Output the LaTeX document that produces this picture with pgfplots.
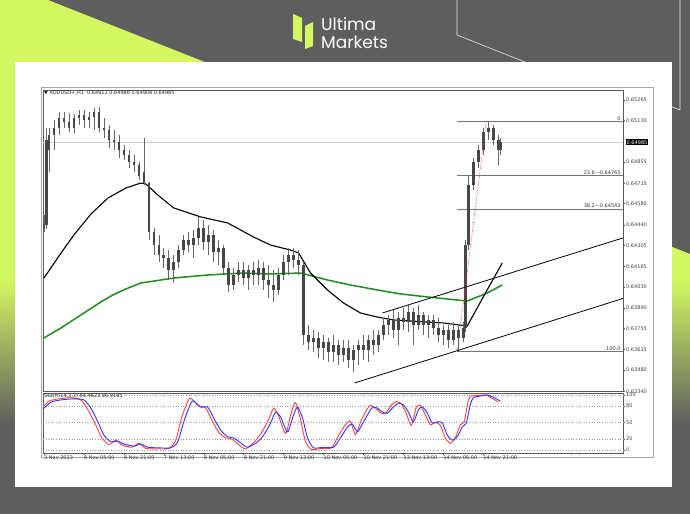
\documentclass[border=0pt]{standalone}
\usepackage{pgfplots}
\pgfplotsset{compat=1.18}
\usepackage{pgfplotstable}
\usepackage{fontspec}
\setmainfont{DejaVu Sans}
\newfontfamily\logofont{Poppins}
\definecolor{bggray}{HTML}{5E5E5E}
\definecolor{limec}{HTML}{D4F862}
\definecolor{magreen}{HTML}{1E8C1E}
\newcommand\tinyf{\fontsize{5}{6}\selectfont}

\pgfplotstableread{
i o h l c
0 0.64419 0.64505 0.64392 0.64439
1 0.64439 0.65080 0.64412 0.65001
2 0.64934 0.65080 0.64789 0.65034
4 0.65034 0.65133 0.64934 0.65080
6 0.65080 0.65186 0.65034 0.65146
8 0.65146 0.65186 0.65080 0.65120
10 0.65120 0.65179 0.65053 0.65080
12 0.65080 0.65172 0.65047 0.65146
14 0.65146 0.65199 0.65100 0.65166
16 0.65166 0.65199 0.65080 0.65133
18 0.65133 0.65186 0.65080 0.65153
20 0.65153 0.65212 0.65067 0.65186
22 0.65186 0.65219 0.65053 0.65080
24 0.65080 0.65146 0.65014 0.65067
26 0.65067 0.65100 0.64948 0.65001
28 0.65001 0.65067 0.64934 0.64987
30 0.64987 0.65034 0.64882 0.64934
32 0.64934 0.64968 0.64868 0.64901
34 0.64901 0.64934 0.64815 0.64855
36 0.64855 0.64901 0.64789 0.64835
38 0.64835 0.64855 0.64736 0.64763
40 0.64789 0.65014 0.64703 0.64716
42 0.64716 0.64723 0.64339 0.64392
44 0.64392 0.64419 0.64240 0.64306
46 0.64306 0.64373 0.64194 0.64240
48 0.64240 0.64287 0.64154 0.64220
50 0.64220 0.64273 0.64075 0.64141
52 0.64141 0.64240 0.64055 0.64194
54 0.64194 0.64306 0.64154 0.64273
56 0.64273 0.64373 0.64240 0.64339
58 0.64339 0.64392 0.64260 0.64306
60 0.64306 0.64406 0.64220 0.64353
62 0.64353 0.64491 0.64306 0.64419
64 0.64419 0.64472 0.64273 0.64326
66 0.64326 0.64439 0.64240 0.64373
68 0.64373 0.64406 0.64194 0.64260
70 0.64260 0.64339 0.64174 0.64287
72 0.64287 0.64306 0.64108 0.64154
74 0.64154 0.64194 0.63996 0.64042
76 0.64042 0.64154 0.64009 0.64108
78 0.64108 0.64194 0.64062 0.64141
80 0.64141 0.64194 0.64042 0.64088
82 0.64088 0.64174 0.64009 0.64141
84 0.64141 0.64194 0.64042 0.64108
86 0.64108 0.64207 0.64042 0.64154
88 0.64154 0.64194 0.64009 0.64075
90 0.64075 0.64174 0.63956 0.64042
92 0.64042 0.64141 0.63930 0.64009
94 0.64009 0.64154 0.63976 0.64108
96 0.64108 0.64240 0.64075 0.64194
98 0.64194 0.64287 0.64108 0.64240
100 0.64240 0.64287 0.64154 0.64207
102 0.64207 0.64273 0.64108 0.64174
104 0.64174 0.64194 0.63645 0.63711
106 0.63711 0.63778 0.63612 0.63665
108 0.63665 0.63745 0.63599 0.63692
110 0.63692 0.63731 0.63559 0.63625
112 0.63625 0.63711 0.63546 0.63665
114 0.63665 0.63692 0.63533 0.63599
116 0.63599 0.63711 0.63533 0.63645
118 0.63645 0.63678 0.63513 0.63579
120 0.63579 0.63678 0.63533 0.63625
122 0.63625 0.63678 0.63493 0.63546
124 0.63546 0.63645 0.63467 0.63612
126 0.63612 0.63678 0.63513 0.63645
128 0.63645 0.63711 0.63546 0.63612
130 0.63612 0.63711 0.63533 0.63678
132 0.63678 0.63745 0.63579 0.63645
134 0.63645 0.63745 0.63599 0.63711
136 0.63711 0.63824 0.63678 0.63778
138 0.63778 0.63844 0.63711 0.63811
140 0.63811 0.63877 0.63692 0.63745
142 0.63745 0.63863 0.63645 0.63824
144 0.63824 0.63890 0.63745 0.63797
146 0.63797 0.63910 0.63731 0.63863
148 0.63863 0.63890 0.63645 0.63778
150 0.63778 0.63910 0.63745 0.63844
152 0.63844 0.63863 0.63711 0.63778
154 0.63778 0.63844 0.63692 0.63811
156 0.63811 0.63844 0.63711 0.63758
158 0.63758 0.63824 0.63665 0.63711
160 0.63711 0.63778 0.63645 0.63745
162 0.63745 0.63778 0.63625 0.63678
164 0.63678 0.63797 0.63645 0.63745
166 0.63745 0.63778 0.63612 0.63692
168 0.63692 0.63797 0.63665 0.63758
169 0.63758 0.64339 0.63731 0.64306
170 0.64306 0.64769 0.64273 0.64703
172 0.64703 0.64882 0.64670 0.64855
174 0.64855 0.64968 0.64815 0.64934
176 0.64934 0.65080 0.64901 0.65053
178 0.65053 0.65120 0.65001 0.65080
180 0.65080 0.65100 0.64968 0.65001
182 0.65001 0.65034 0.64835 0.64934
183 0.64934 0.65014 0.64901 0.64987
}\candles

\pgfplotstableread{
i v
0 76
2.8 87
6.8 91
12 93
16 91
18.8 76
21.6 51
24 27
26.8 15
29.6 16
32 11
36 7
38.8 11
41.6 5
45.6 4
50.8 4
53.6 15
56 51
58.8 85
60 89
62.8 78
65.6 78
68 58
70.8 36
73.6 24
76 22
78.8 13
81.6 5
85.6 15
88 27
90.8 49
92.8 69
94.8 60
97.6 33
100 64
101.6 78
103.6 58
105.6 22
108 4
112 5
116 5
118.8 22
121.6 42
123.6 47
125.6 33
128 51
130.8 73
132 78
133.6 76
135.6 69
137.6 67
140 78
142 85
144 82
146 69
148 51
150 73
151.6 78
153.6 67
155.6 49
157.6 51
159.6 49
161.6 27
163.6 18
165.6 24
167.6 42
169.2 49
170.8 82
172 95
174.8 98
177.6 100
180 96
182.8 89
}\stochblue

\pgfplotstableread{
i v
0 80
2 89
6 93
11 95
15 90
18 70
20.8 45
23.2 22
26 10
28.8 18
31.2 9
35.2 5
38 12
40.8 3
44.8 2
50 3
52.8 18
55.2 60
58 92
59.2 93
62 80
64.8 76
67.2 55
70 32
72.8 22
75.2 20
78 10
80.8 2
84.8 17
87.2 32
90 55
92 76
94 62
96.8 30
99.2 70
100.8 86
102.8 55
104.8 15
107.2 1
111.2 3
115.2 4
118 26
120.8 46
122.8 52
124.8 28
127.2 55
130 78
131.2 81
132.8 76
134.8 68
136.8 66
139.2 82
141.2 88
143.2 84
145.2 66
147.2 45
149.2 78
150.8 81
152.8 64
154.8 46
156.8 50
158.8 45
160.8 22
162.8 12
164.8 22
166.8 46
168.4 52
170 90
171.2 98
174 99
176.8 100
179.2 95
182 87
}\stochred

\begin{document}
\begin{tikzpicture}[x=1pt,y=1pt]
\path[use as bounding box] (0,0) rectangle (690,514);
% background
\fill[bggray] (0,0) rectangle (690,514);
\begin{scope}
\clip (0,514) -- (48,514) -- (690,260) -- (690,0) -- (0,0) -- cycle;
\fill[limec] (0,234) rectangle (690,514);
\shade[top color=limec, bottom color=bggray] (0,90) rectangle (690,234.5);
\end{scope}
\draw[white!85!bggray, line width=0.6pt] (457,514) -- (457,479) -- (545,444);
\draw[white!85!bggray, line width=0.6pt] (680,514) -- (680,404) -- (670,408);
% white panel
\fill[white] (15,27) rectangle (672,452);
% logo
\fill[limec] (293,500) -- (302,496) -- (302,472) -- (293,475) -- cycle;
\fill[limec] (305,488) -- (313,492) -- (313,468) -- (305,465) -- cycle;
\node[anchor=base west, inner sep=0pt, text=white, font=\logofont\fontsize{17}{17}\selectfont] at (321,483) {Ultima};
\node[anchor=base west, inner sep=0pt, text=white, font=\logofont\fontsize{17}{17}\selectfont] at (321,465.5) {Markets};
% screenshot frame
\draw[black!35, line width=0.6pt] (41,57) rectangle (653,427);

% main price chart
\begin{axis}[at={(43pt,122.5pt)}, anchor=south west, scale only axis,
  width=580pt, height=301.5pt,
  xmin=-0.4, xmax=232, ymin=0.633379, ymax=0.653311,
  clip=false, axis line style={black!65, line width=0.5pt},
  xtick=\empty,
  ytick={0.63340,0.63480,0.63615,0.63755,0.63890,0.64030,0.64165,0.64305,0.64440,0.64580,0.64715,0.64855,0.65130,0.65265},
  yticklabels={0.63340,0.63480,0.63615,0.63755,0.63890,0.64030,0.64165,0.64305,0.64440,0.64580,0.64715,0.64855,0.65130,0.65265},
  ytick pos=right, yticklabel pos=right, tick align=outside, major tick length=2pt,
  tick style={black!65, line width=0.4pt},
  yticklabel style={font=\tinyf, text=black!75, inner sep=1pt},
]
% current price line
\addplot[black!18, line width=0.6pt] coordinates {(-0.4,0.64985) (232,0.64985)};
% fibonacci levels
\addplot[black!55, line width=0.6pt] coordinates {(165.6,0.65124) (232,0.65124)};
\addplot[black!55, line width=0.6pt] coordinates {(165.6,0.64765) (232,0.64765)};
\addplot[black!55, line width=0.6pt] coordinates {(165.6,0.64543) (232,0.64543)};
\addplot[black!55, line width=0.6pt] coordinates {(165.6,0.63603) (232,0.63603)};
% moving averages
\addplot[magreen, line width=1.5pt, line join=round] coordinates {
(0,0.63692) (6.8,0.63758) (14.8,0.63844) (22.8,0.63930) (27.6,0.63976) (32.8,0.64016)
(38.8,0.64055) (52,0.64088) (65.6,0.64108) (78.8,0.64121) (90.8,0.64115) (102.8,0.64121)
(113.6,0.64075) (122.8,0.64042) (133.6,0.64009) (142.8,0.63983) (153.6,0.63963)
(169.6,0.63936) (177.6,0.63989) (183.6,0.64042)};
\addplot[black, line width=1.1pt, line join=round] coordinates {
(0,0.64088) (6,0.64234) (12,0.64373) (18.8,0.64511) (25.6,0.64617) (32.8,0.64683)
(38.8,0.64716) (40.8,0.64710) (45.6,0.64637) (52,0.64551) (62.8,0.64492) (73.6,0.64452)
(84,0.64359) (90.8,0.64306) (98.8,0.64273) (102,0.64254) (106.8,0.64121) (113.6,0.64009)
(120,0.63923) (126.8,0.63857) (133.6,0.63830) (140,0.63811) (146.8,0.63804) (153.6,0.63797)
(160,0.63791) (169.6,0.63771) (176,0.63963) (183.6,0.64187)};
% candles
\addplot[black!60, line width=0.6pt, quiver={u=0, v=\thisrow{h}-\thisrow{l}}] table[x=i, y=l] {\candles};
\addplot[black!72, line width=2.6pt, quiver={u=0, v={abs(\thisrow{c}-\thisrow{o})}}] table[x=i, y expr={min(\thisrow{o},\thisrow{c})}] {\candles};
% channel
\addplot[black, line width=0.8pt] coordinates {(124.4,0.63394) (232,0.63953)};
\addplot[black, line width=0.8pt] coordinates {(135.6,0.63857) (232,0.64353)};
% fib swing
\addplot[red!85, densely dotted, line width=0.6pt] coordinates {(165.6,0.63603) (177.2,0.65124)};
% labels
\node[anchor=south east, inner sep=1pt, font=\tinyf, text=black!80] at (axis cs:231.5,0.65124) {0};
\node[anchor=south east, inner sep=1pt, font=\tinyf, text=black!80] at (axis cs:231.5,0.64765) {23.6—0.64765};
\node[anchor=south east, inner sep=1pt, font=\tinyf, text=black!80] at (axis cs:231.5,0.64543) {38.2—0.64543};
\node[anchor=south east, inner sep=1pt, font=\tinyf, text=black!80] at (axis cs:231.5,0.63603) {100.0};
\node[anchor=west, fill=black, text=white, font=\tinyf, inner sep=1pt, xshift=2.5pt] at (axis cs:232,0.64985) {0.64985};
\node[anchor=north west, inner sep=1pt, font=\tinyf, text=black!85] at (rel axis cs:0,1) {▼ AUDUSD+,H1\ \ 0.64912 0.64986 0.64908 0.64985};
\end{axis}

% stochastic
\begin{axis}[at={(43pt,61pt)}, anchor=south west, scale only axis,
  width=580pt, height=60pt,
  xmin=-0.4, xmax=232, ymin=-5.45, ymax=103.6,
  clip=false, axis line style={black!65, line width=0.5pt},
  xtick={0,16,32,48,64,80,96,112,128,144,160,176},
  xticklabels={3 Nov 2023,6 Nov 05:00,6 Nov 21:00,7 Nov 13:00,8 Nov 05:00,8 Nov 21:00,9 Nov 13:00,10 Nov 05:00,10 Nov 21:00,13 Nov 13:00,14 Nov 05:00,14 Nov 21:00},
  xtick pos=bottom, xticklabel style={font=\tinyf, text=black!80, anchor=north west, inner sep=1pt, xshift=-1pt},
  ytick={0,20,50,80,100}, yticklabels={0,20,50,80,100},
  ytick pos=right, yticklabel pos=right, tick align=outside, major tick length=2pt,
  tick style={black!65, line width=0.4pt},
  yticklabel style={font=\tinyf, text=black!75, inner sep=1pt},
]
\addplot[black!40, dotted, line width=0.6pt] coordinates {(-0.4,100) (232,100)};
\addplot[black!40, dotted, line width=0.6pt] coordinates {(-0.4,80) (232,80)};
\addplot[black!40, dotted, line width=0.6pt] coordinates {(-0.4,50) (232,50)};
\addplot[black!40, dotted, line width=0.6pt] coordinates {(-0.4,20) (232,20)};
\addplot[black!40, dotted, line width=0.6pt] coordinates {(-0.4,0) (232,0)};
\addplot[red!75, line width=0.9pt, smooth, tension=0.4] table[x=i, y=v] {\stochred};
\addplot[blue!80, line width=0.9pt, smooth, tension=0.4] table[x=i, y=v] {\stochblue};
\node[anchor=north west, inner sep=1pt, font=\tinyf, text=black!85] at (rel axis cs:0,1) {Stoch(14,3,3) 84.4623 86.9185};
\end{axis}
\end{tikzpicture}
\end{document}
